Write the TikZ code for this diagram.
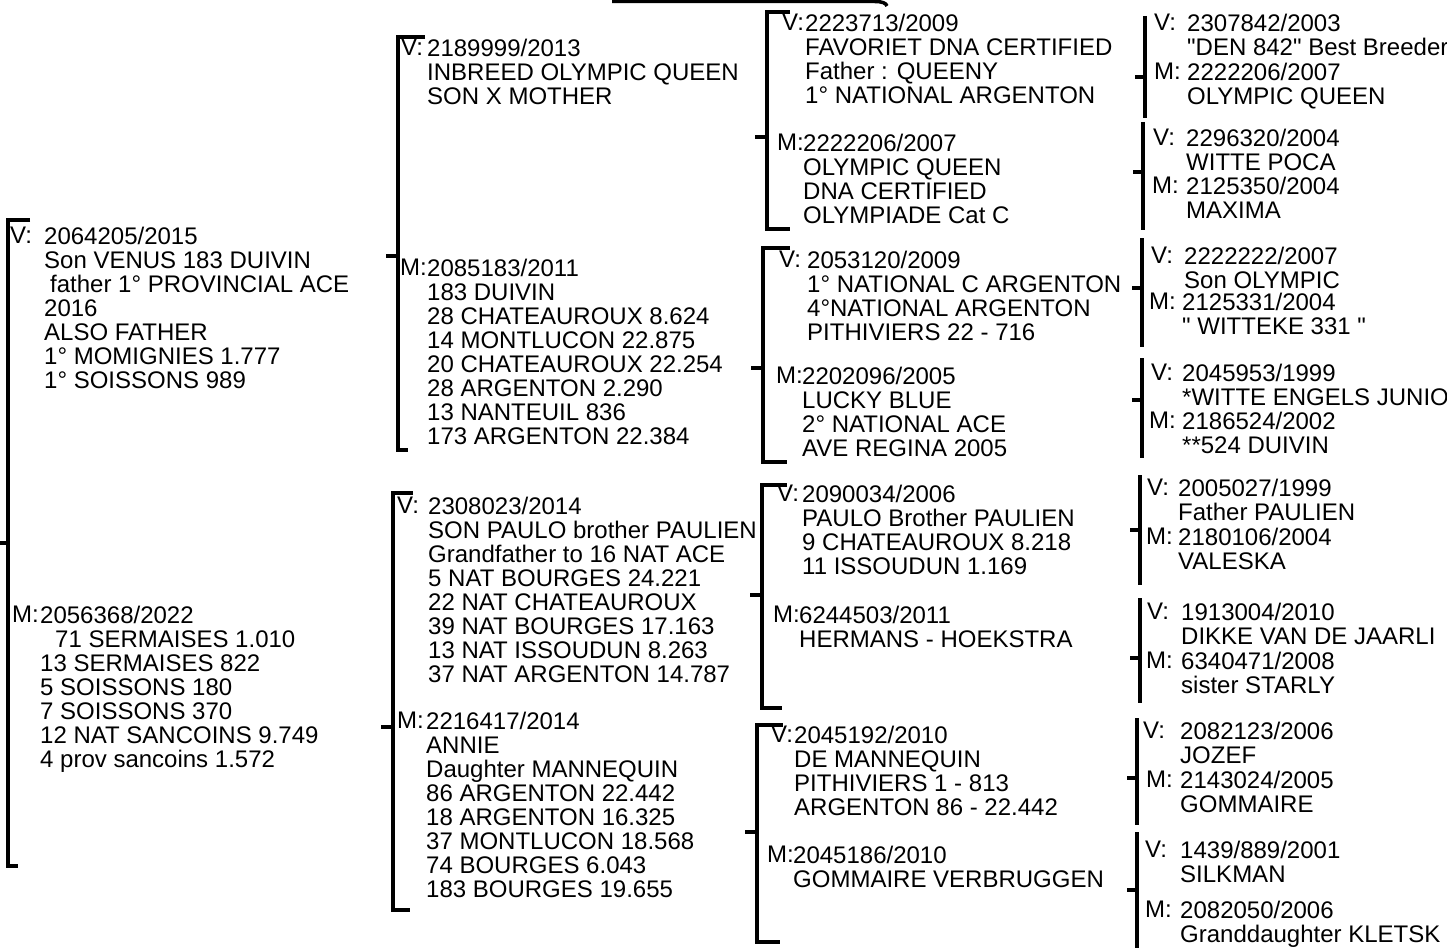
\documentclass[tikz,border=0pt]{standalone}
\usepackage{fontspec}
\setmainfont{Liberation Sans}
\usetikzlibrary{positioning}
\tikzstyle{pedigree} = [x = 1pt, y = -1pt]
\tikzstyle{bracketLine} = [color=black, line width=3.5pt]
\tikzstyle{pedLabel} = [anchor=north west, inner sep=0pt, font=\pedFont]
\tikzstyle{pedText} = [anchor=north west, inner sep=0pt, align=left, font=\pedFont]
\newcommand{\pedFont}{\fontsize{24}{24}\selectfont}
\newcommand{\qq}{\textquotedbl}
\newcommand{\pedBracket}[6]{\draw [bracketLine] ({#1 + #5}, #2) -- (#1, #2) -- (#1, #3) -- ({#1 + #6}, #3); \draw [bracketLine] (#1, #4) -- + (-12, 0);}
\newcommand{\pedBar}[4]{\draw [bracketLine] (#1, #2) -- (#1, #3); \draw [bracketLine] (#1, #4) -- + (-10, 0);}
\newcommand{\pedEntry}[6]{\node [pedLabel] (#1Lab) at (#3, #5 - 9) {#2}; \node [pedText] (#1) at (#4, #5 - 9) {#6};}

\begin{document}
\begin{tikzpicture}[pedigree]
  \useasboundingbox (0, 0) rectangle (1447, 947);
  \clip (0, 0) rectangle (1447, 947);
  \draw [bracketLine] (612, 1.5) -- (875, 1.5) .. controls (882, 1.5) and (886, 3) .. (887, 6);
  % generation 1
  \pedBracket{8}{220}{866}{543}{22}{10}
  \pedEntry{sire}{V:}{10}{44}{236}{2064205/2015\\Son VENUS 183 DUIVIN\\\hspace{6pt}father 1° PROVINCIAL ACE\\2016\\ALSO FATHER\\1° MOMIGNIES 1.777\\1° SOISSONS 989}
  \pedEntry{dam}{M:}{12}{40}{615}{2056368/2022\\\hspace{15pt}71 SERMAISES 1.010\\13 SERMAISES 822\\5 SOISSONS 180\\7 SOISSONS 370\\12 NAT SANCOINS 9.749\\4 prov sancoins 1.572}
  % generation 2
  \pedBracket{398}{37}{450}{256}{27}{10}
  \pedEntry{sireV}{V:}{401}{427}{48}{2189999/2013\\INBREED OLYMPIC QUEEN\\SON X MOTHER}
  \pedEntry{sireM}{M:}{400}{427}{268}{2085183/2011\\183 DUIVIN\\28 CHATEAUROUX 8.624\\14 MONTLUCON 22.875\\20 CHATEAUROUX 22.254\\28 ARGENTON 2.290\\13 NANTEUIL 836\\173 ARGENTON 22.384}
  \pedBracket{393}{493}{910}{727}{20}{17}
  \pedEntry{damV}{V:}{397}{428}{506}{2308023/2014\\SON PAULO brother PAULIEN\\Grandfather to 16 NAT ACE\\5 NAT BOURGES 24.221\\22 NAT CHATEAUROUX\\39 NAT BOURGES 17.163\\13 NAT ISSOUDUN 8.263\\37 NAT ARGENTON 14.787}
  \pedEntry{damM}{M:}{397}{426}{721}{2216417/2014\\ANNIE\\Daughter MANNEQUIN\\86 ARGENTON 22.442\\18 ARGENTON 16.325\\37 MONTLUCON 18.568\\74 BOURGES 6.043\\183 BOURGES 19.655}
  % generation 3
  \pedBracket{767}{12}{229}{137}{23}{23}
  \pedEntry{sireVV}{V:}{782}{805}{23}{2223713/2009\\FAVORIET DNA CERTIFIED\\Father : QUEENY\\1° NATIONAL ARGENTON}
  \pedEntry{sireVM}{M:}{777}{803}{143}{2222206/2007\\OLYMPIC QUEEN\\DNA CERTIFIED\\OLYMPIADE Cat C}
  \pedBracket{763}{248}{462}{368}{27}{24}
  \pedEntry{sireMV}{V:}{779}{807}{260}{2053120/2009\\1° NATIONAL C ARGENTON\\4°NATIONAL ARGENTON\\PITHIVIERS 22 - 716}
  \pedEntry{sireMM}{M:}{776}{802}{376}{2202096/2005\\LUCKY BLUE\\2° NATIONAL ACE\\AVE REGINA 2005}
  \pedBracket{762}{485}{708}{595}{25}{20}
  \pedEntry{damVV}{V:}{777}{802}{494}{2090034/2006\\PAULO Brother PAULIEN\\9 CHATEAUROUX 8.218\\11 ISSOUDUN 1.169}
  \pedEntry{damVM}{M:}{773}{799}{615}{6244503/2011\\HERMANS - HOEKSTRA}
  \pedBracket{757}{725}{942}{832}{26}{23}
  \pedEntry{damMV}{V:}{771}{794}{735}{2045192/2010\\DE MANNEQUIN\\PITHIVIERS 1 - 813\\ARGENTON 86 - 22.442}
  \pedEntry{damMM}{M:}{767}{793}{855}{2045186/2010\\GOMMAIRE VERBRUGGEN}
  % generation 4
  \pedBar{1145}{16}{118}{77}
  \pedEntry{g1V}{V:}{1154}{1187}{23}{2307842/2003\\\qq DEN 842\qq{} Best Breeder}
  \pedEntry{g1M}{M:}{1154}{1187}{72}{2222206/2007\\OLYMPIC QUEEN}
  \pedBar{1143}{122}{230}{172}
  \pedEntry{g2V}{V:}{1153}{1186}{138}{2296320/2004\\WITTE POCA}
  \pedEntry{g2M}{M:}{1152}{1186}{186}{2125350/2004\\MAXIMA}
  \pedBar{1142}{238}{347}{288}
  \pedEntry{g3V}{V:}{1151}{1184}{256}{2222222/2007\\Son OLYMPIC}
  \pedEntry{g3M}{M:}{1149}{1182}{302}{2125331/2004\\\qq{} WITTEKE 331 \qq}
  \pedBar{1142}{358}{458}{400}
  \pedEntry{g4V}{V:}{1151}{1182}{373}{2045953/1999\\*WITTE ENGELS JUNIO}
  \pedEntry{g4M}{M:}{1149}{1182}{421}{2186524/2002\\**524 DUIVIN}
  \pedBar{1140}{475}{585}{530}
  \pedEntry{g5V}{V:}{1147}{1178}{488}{2005027/1999\\Father PAULIEN}
  \pedEntry{g5M}{M:}{1146}{1178}{537}{2180106/2004\\VALESKA}
  \pedBar{1140}{598}{703}{658}
  \pedEntry{g6V}{V:}{1147}{1181}{612}{1913004/2010\\DIKKE VAN DE JAARLI}
  \pedEntry{g6M}{M:}{1146}{1181}{661}{6340471/2008\\sister STARLY}
  \pedBar{1137}{718}{825}{778}
  \pedEntry{g7V}{V:}{1143}{1180}{731}{2082123/2006\\JOZEF}
  \pedEntry{g7M}{M:}{1146}{1180}{780}{2143024/2005\\GOMMAIRE}
  \pedBar{1137}{832}{950}{890}
  \pedEntry{g8V}{V:}{1145}{1180}{850}{1439/889/2001\\SILKMAN}
  \pedEntry{g8M}{M:}{1145}{1180}{910}{2082050/2006\\Granddaughter KLETSK}
\end{tikzpicture}
\end{document}
